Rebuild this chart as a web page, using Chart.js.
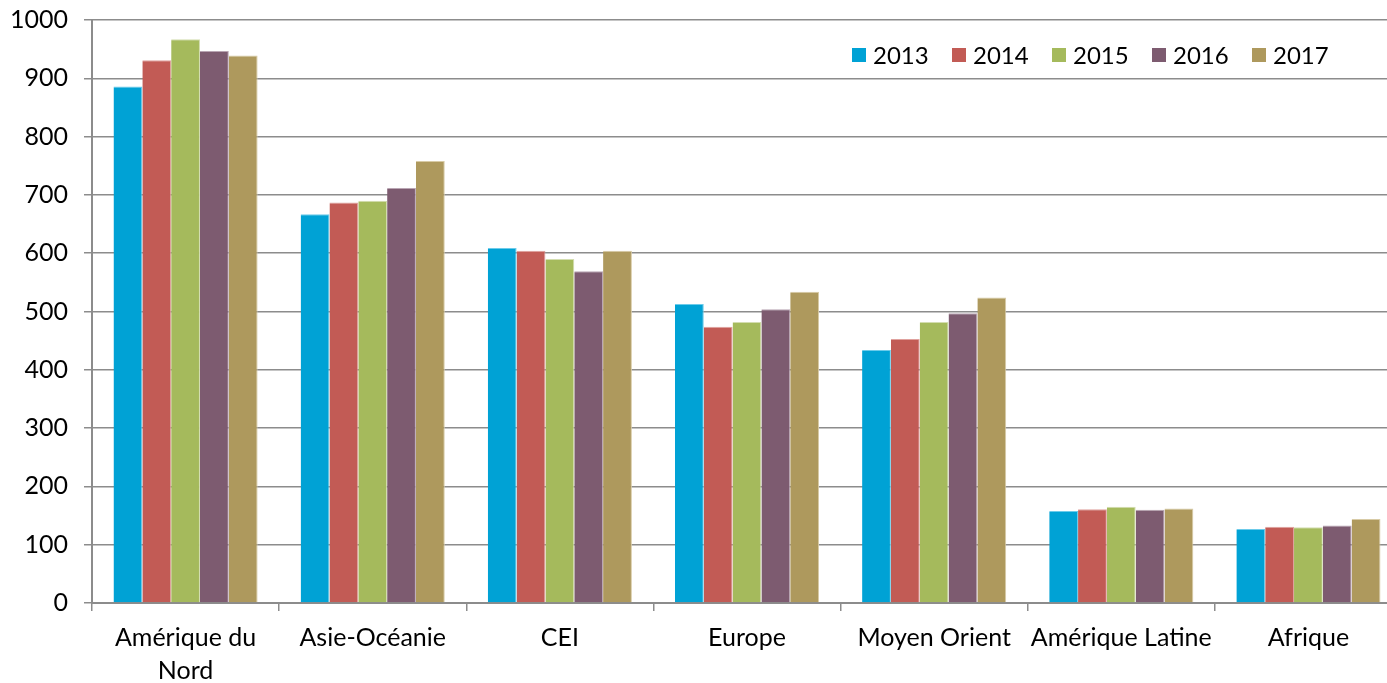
<!DOCTYPE html>
<html>
<head>
    <meta charset="utf-8">
    <title>Production par région</title>
    <script src="https://cdn.jsdelivr.net/npm/chart.js"></script>
    <style>
        html, body {
            margin: 0;
            padding: 0;
            background: white;
            overflow: hidden;
        }
        .chart-box {
            position: relative;
            width: 1402px;
            height: 694px;
            margin-top: -11px;
        }
        .legend {
            position: absolute;
            top: 51px;
            left: 852px;
            display: flex;
            font-family: 'Lato', 'Open Sans', sans-serif;
            font-size: 24px;
            color: black;
        }
        .legend-item {
            display: flex;
            align-items: center;
            width: 100px;
        }
        .legend-box {
            width: 14px;
            height: 14px;
            margin-right: 7px;
        }
    </style>
</head>
<body>
<div class="chart-box">
    <canvas id="chart"></canvas>
    <div class="legend" id="legend"></div>
</div>

<script>
    const regions = [['Amérique du', 'Nord'], 'Asie-Océanie', 'CEI', 'Europe', 'Moyen Orient', 'Amérique Latine', 'Afrique'];
    const years = ['2013', '2014', '2015', '2016', '2017'];

    const v2013 = [886, 667, 609, 513, 434, 158, 127];
    const v2014 = [931, 687, 604, 474, 453, 161, 131];
    const v2015 = [967, 690, 590, 482, 482, 165, 130];
    const v2016 = [947, 712, 569, 504, 497, 160, 133];
    const v2017 = [939, 758, 604, 534, 524, 162, 144];

    const colors = ['#00A2D5', '#C25B55', '#A5BA5C', '#7D5B70', '#AE995D'];
    const edges = ['#6ccbea', '#e0a29e', '#d3ddb0', '#b9a5b3', '#d8cba6'];

    const series = [v2013, v2014, v2015, v2016, v2017];

    // legend sits inside the plot, top right
    const legend = document.getElementById('legend');
    years.forEach((y, i) => {
        const item = document.createElement('div');
        item.className = 'legend-item';
        item.innerHTML = `<span class="legend-box" style="background:${colors[i]}"></span>${y}`;
        legend.appendChild(item);
    });

    const gridGray = '#8c8c8c';

    new Chart(document.getElementById('chart'), {
        type: 'bar',
        data: {
            labels: regions,
            datasets: years.map((y, i) => ({
                label: y,
                data: series[i],
                backgroundColor: colors[i],
                borderColor: edges[i],
                borderWidth: { top: 1, left: 0, right: 1, bottom: 0 },
                borderSkipped: false,
                barPercentage: 1,
                categoryPercentage: 0.77
            }))
        },
        options: {
            responsive: true,
            maintainAspectRatio: false,
            animation: false,
            layout: { padding: { top: 8, left: 0, right: 0, bottom: 0 } },
            plugins: {
                legend: { display: false },
                tooltip: { enabled: false }
            },
            scales: {
                x: {
                    grid: {
                        display: true,
                        offset: true,
                        drawOnChartArea: false,
                        drawTicks: true,
                        tickLength: 8,
                        color: gridGray,
                        lineWidth: 1.5
                    },
                    border: { display: true, color: gridGray, width: 2 },
                    ticks: {
                        color: 'black',
                        padding: 11,
                        maxRotation: 0,
                        autoSkip: false,
                        font: { family: 'Lato', size: 25, lineHeight: 1.3 }
                    },
                    afterFit: (scale) => { scale.height = 80; }
                },
                y: {
                    min: 0,
                    max: 1000,
                    ticks: {
                        stepSize: 100,
                        color: 'black',
                        padding: 16,
                        font: { family: 'Lato', size: 25 },
                        callback: (v) => String(v)
                    },
                    grid: {
                        color: gridGray,
                        lineWidth: 1.5,
                        drawTicks: true,
                        tickLength: 8
                    },
                    border: { display: true, color: gridGray, width: 2 },
                    afterFit: (scale) => { scale.width = 92; }
                }
            }
        }
    });
</script>
</body>
</html>
